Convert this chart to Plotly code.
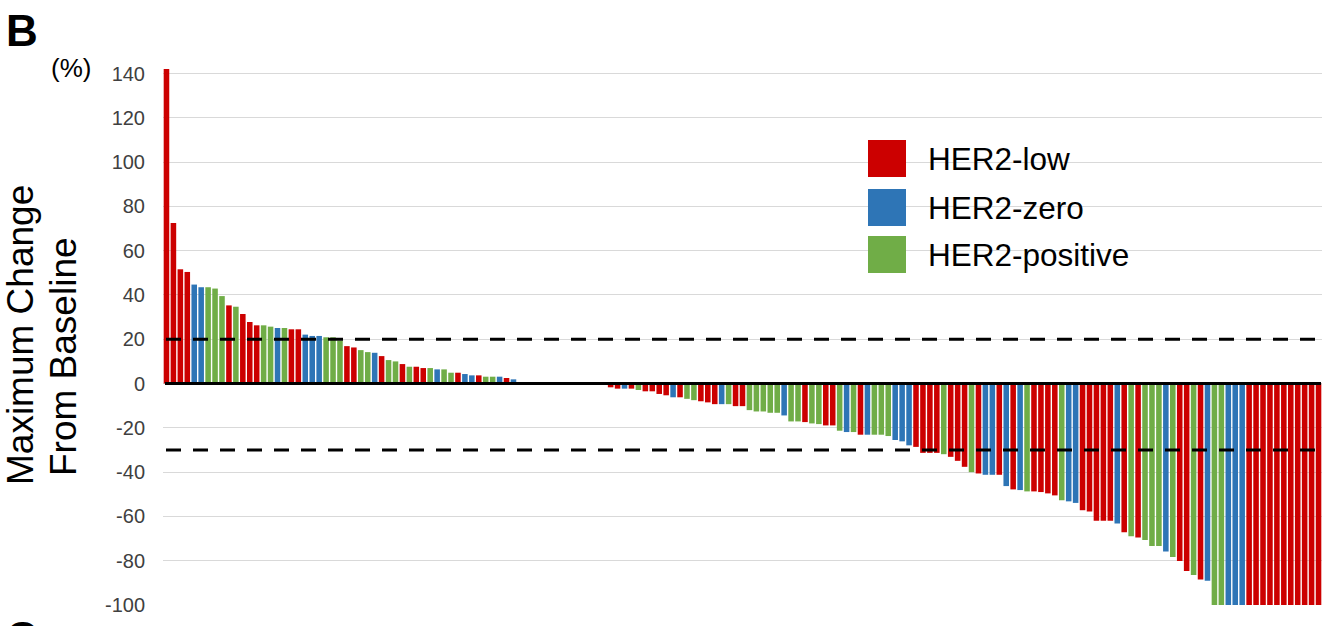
import plotly.graph_objects as go

# Best percentage change from baseline for each patient, sorted high to low
values = [
    142, 72.5, 51.6, 50.4, 44.7, 43.5, 43.5, 42.9, 39.5, 35.3,
    34.7, 31.4, 27.8, 26.3, 26.3, 25.7, 25.1, 25.1, 24.5, 24.5,
    22.1, 21.5, 21.5, 20.9, 20.9, 19.4, 16.9, 16.3, 15.1, 14.2,
    13.9, 12.4, 10.6, 10.0, 8.8, 7.6, 7.6, 7.0, 7.0, 6.4,
    6.4, 4.9, 4.9, 4.3, 3.7, 3.7, 3.1, 3.1, 3.1, 2.5,
    1.9,
    0, 0, 0, 0, 0, 0, 0, 0, 0, 0, 0, 0, 0,
    -1.7, -2.3, -2.3, -2.3, -2.9, -3.5, -3.5, -4.7, -5.3, -6.2,
    -6.2, -6.9, -7.5, -8.0, -8.5, -9.3, -9.3, -9.3, -10.2, -10.2,
    -12.0, -12.6, -12.6, -13.2, -13.2, -14.4, -17.1, -17.1, -17.4, -18.0,
    -18.3, -18.9, -18.9, -21.3, -21.9, -21.9, -23.1, -23.1, -23.1, -23.1,
    -23.7, -25.5, -26.1, -27.9, -28.6, -31.3, -31.3, -31.3, -31.9, -33.1,
    -34.9, -37.6, -40.0, -40.6, -41.2, -41.2, -41.2, -46.3, -47.8, -48.1,
    -48.7, -48.7, -49.0, -49.6, -50.5, -52.7, -53.2, -53.9, -57.2, -57.8,
    -62.0, -62.0, -62.0, -63.2, -67.1, -68.9, -69.5, -70.7, -73.4, -73.4,
    -75.8, -78.3, -80.1, -84.6, -86.4, -88.5, -89.1, -100, -100, -100,
    -100, -100, -100, -100, -100, -100, -100, -100, -100, -100,
    -100, -100, -100,
]

# HER2 status per patient: L = low, Z = zero, P = positive
groups = list(
    "LLLLZZPPPLPLLLPPZPLLZZZPP"
    "PLLPPZLPPLPLLPZPPLZZLPPZLZ"
    "LLLLLLLLLLLLL"
    "LLZLPLLLLZLPPLLLZPLLPPPPPZPPLPPLLPZPLZPPPZ"
    "ZZLLLLPLLLPLZZLZLZPLLLLPZZLL"
    "LLLZLPLPPPZPLLPLZPPZZZLLLLLLLLLLL"
)

categories = list(range(1, len(values) + 1))

group_names = {"L": "HER2-low", "Z": "HER2-zero", "P": "HER2-positive"}
group_colors = {"L": "#CC0000", "Z": "#2E75B6", "P": "#70AD47"}

threshold_pd = 20
threshold_pr = -30
y_ticks = list(range(-100, 141, 20))

W, H = 1325, 626
M_L, M_R, M_T, M_B = 163, 3, 68, 21
PLOT_W = W - M_L - M_R
PLOT_H = H - M_T - M_B


def px_x(px):
    return (px - M_L) / PLOT_W


def px_y(py):
    return (H - M_B - py) / PLOT_H


FONT = "Arial, 'Liberation Sans', sans-serif"

fig = go.Figure(
    go.Bar(
        x=categories,
        y=values,
        marker=dict(color=[group_colors[g] for g in groups], line=dict(width=0)),
        showlegend=False,
        hovertext=[group_names[g] for g in groups],
    )
)

shapes = []
# zero baseline and response thresholds
shapes.append(dict(type="line", xref="paper", yref="y", x0=px_x(165), x1=px_x(1321),
                   y0=0, y1=0, line=dict(color="black", width=3), layer="above"))
for thr in (threshold_pd, threshold_pr):
    shapes.append(dict(type="line", xref="paper", yref="y", x0=px_x(166), x1=px_x(1322),
                       y0=thr, y1=thr, line=dict(color="black", width=3, dash="15px,12px"),
                       layer="above"))

annotations = []
# legend boxes and labels
legend_tops = [140, 189, 236]
for code, top in zip(["L", "Z", "P"], legend_tops):
    shapes.append(dict(type="rect", xref="paper", yref="paper",
                       x0=px_x(868), x1=px_x(906), y0=px_y(top + 37), y1=px_y(top),
                       fillcolor=group_colors[code], line=dict(width=0), layer="above"))
    annotations.append(dict(xref="paper", yref="paper", x=px_x(926), y=px_y(top + 18.5),
                            xanchor="left", yanchor="middle", showarrow=False,
                            text=group_names[code],
                            font=dict(family=FONT, size=31.5, color="black")))

# axis title, two rotated lines
annotations.append(dict(xref="paper", yref="paper", x=px_x(20), y=px_y(335),
                        xanchor="center", yanchor="middle", showarrow=False, textangle=-90,
                        text="Maximum Change", font=dict(family=FONT, size=37, color="black")))
annotations.append(dict(xref="paper", yref="paper", x=px_x(63), y=px_y(357),
                        xanchor="center", yanchor="middle", showarrow=False, textangle=-90,
                        text="From Baseline", font=dict(family=FONT, size=37, color="black")))
# unit label
annotations.append(dict(xref="paper", yref="paper", x=px_x(71), y=px_y(68),
                        xanchor="center", yanchor="middle", showarrow=False,
                        text="(%)", font=dict(family=FONT, size=26, color="black")))
# panel letters
annotations.append(dict(xref="paper", yref="paper", x=px_x(22), y=px_y(31),
                        xanchor="center", yanchor="middle", showarrow=False,
                        text="<b>B</b>", font=dict(family=FONT, size=44, color="black")))
annotations.append(dict(xref="paper", yref="paper", x=px_x(22), y=px_y(637),
                        xanchor="center", yanchor="middle", showarrow=False,
                        text="<b>C</b>", font=dict(family=FONT, size=44, color="black")))

fig.update_layout(
    width=W, height=H, autosize=False,
    margin=dict(l=M_L, r=M_R, t=M_T, b=M_B, pad=0),
    plot_bgcolor="white", paper_bgcolor="white",
    bargap=0.2,
    shapes=shapes,
    annotations=annotations,
    xaxis=dict(range=[0.5, len(values) + 0.5], showgrid=False, showticklabels=False,
               zeroline=False, showline=False, ticks=""),
    yaxis=dict(range=[-100, 142.5], tickvals=y_ticks, ticktext=[str(v) for v in y_ticks],
               showgrid=True, gridcolor="#d9d9d9", gridwidth=1,
               zeroline=False, showline=False, ticks="", ticklabelstandoff=17,
               tickfont=dict(family=FONT, size=20, color="#404040")),
)

fig.write_html("out.html")
